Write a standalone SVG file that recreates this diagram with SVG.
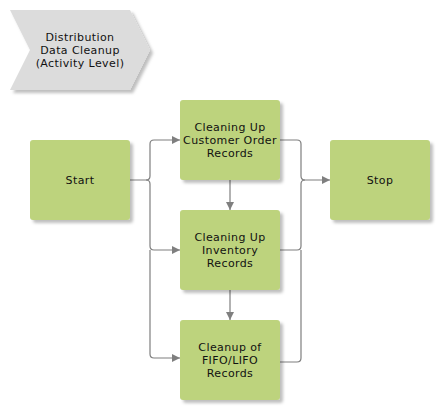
<svg xmlns="http://www.w3.org/2000/svg" width="440" height="410" viewBox="0 0 440 410">
<defs>
<filter id="sh" x="-10%" y="-10%" width="130%" height="130%">
<feDropShadow dx="3" dy="3" stdDeviation="1.5" flood-color="#000" flood-opacity="0.25"/>
</filter>
<marker id="ar" viewBox="0 0 10 10" refX="10" refY="5" markerWidth="10" markerHeight="8" markerUnits="userSpaceOnUse" orient="auto">
<path d="M0,0 L10,5 L0,10 z" fill="#7f7f7f"/>
</marker>
</defs>
<style>
.box{fill:#bdd37d;filter:url(#sh)}
.t{font-family:"DejaVu Sans",Verdana,sans-serif;font-size:11px;letter-spacing:0.4px;fill:#111;text-anchor:middle}
.c{fill:none;stroke:#7f7f7f;stroke-width:1.2}
</style>
<rect width="440" height="410" fill="#fff"/>
<g id="title">
<polygon points="10,10 130,10 150,50 130,90 10,90 30,50" fill="#dcdcdc" filter="url(#sh)"/>
<text class="t" x="80" y="41">Distribution</text>
<text class="t" x="80" y="54">Data Cleanup</text>
<text class="t" x="80" y="67">(Activity Level)</text>
</g>
<g id="connectors">
<path class="c" d="M130,180 L146,180 Q150,180 150,176 L150,144 Q150,140 154,140 L180,140" marker-end="url(#ar)"/>
<path class="c" d="M146,180 Q150,180 150,184 L150,246 Q150,250 154,250 L180,250" marker-end="url(#ar)"/>
<path class="c" d="M150,250 L150,354 Q150,358 154,358 L180,358" marker-end="url(#ar)"/>
<path class="c" d="M280,140 L297,140 Q301,140 301,144 L301,176 Q301,180 305,180 L330,180" marker-end="url(#ar)"/>
<path class="c" d="M280,250 L297,250 Q301,250 301,246 L301,184 Q301,180 305,180"/>
<path class="c" d="M280,362 L297,362 Q301,362 301,358 L301,250"/>
<path class="c" d="M230,180 L230,210" marker-end="url(#ar)"/>
<path class="c" d="M230,290 L230,320" marker-end="url(#ar)"/>
</g>
<g id="start">
<rect class="box" x="30" y="140" width="100" height="80" rx="3"/>
<text class="t" x="80" y="184">Start</text>
</g>
<g id="n1">
<rect class="box" x="180" y="100" width="100" height="80" rx="3"/>
<text class="t" x="230" y="131">Cleaning Up</text>
<text class="t" x="230" y="144">Customer Order</text>
<text class="t" x="230" y="157">Records</text>
</g>
<g id="n2">
<rect class="box" x="180" y="210" width="100" height="80" rx="3"/>
<text class="t" x="230" y="241">Cleaning Up</text>
<text class="t" x="230" y="254">Inventory</text>
<text class="t" x="230" y="267">Records</text>
</g>
<g id="n3">
<rect class="box" x="180" y="320" width="100" height="80" rx="3"/>
<text class="t" x="230" y="351">Cleanup of</text>
<text class="t" x="230" y="364">FIFO/LIFO</text>
<text class="t" x="230" y="377">Records</text>
</g>
<g id="stop">
<rect class="box" x="330" y="140" width="100" height="80" rx="3"/>
<text class="t" x="380" y="184">Stop</text>
</g>
</svg>
